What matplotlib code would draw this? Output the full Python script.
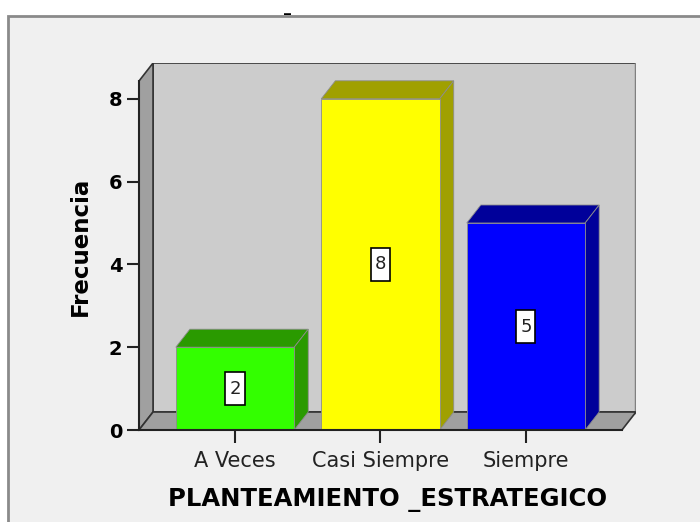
import matplotlib.pyplot as plt
from matplotlib.patches import Polygon, Rectangle

# datos
categorias = ["A Veces", "Casi Siempre", "Siempre"]
frecuencias = [2, 8, 5]
colores_frente = ["#33FF00", "#FFFF00", "#0000FF"]
colores_lado = ["#2A9A00", "#A0A000", "#00009A"]

W, H = 700, 522
fig = plt.figure(figsize=(7, 5.22), dpi=100)
fig.patch.set_facecolor("white")

# marco gris del grafico
fig.patches.append(Rectangle((8 / W, -0.1), 1.0, (522 - 16) / H + 0.1,
                             transform=fig.transFigure, facecolor="#F0F0F0",
                             edgecolor="#8A8A8A", linewidth=2, zorder=-1))

# ejes (pixeles de la referencia)
ax = fig.add_axes([139 / W, (H - 430) / H, (636 - 139) / W, (430 - 63) / H])
ax.set_facecolor("none")

x0, x1 = -0.66, 2.66
ytop = 8.43
DX = 14 / 145
DY = 18 / 41.4
ancho = 118 / 145

ax.set_xlim(x0, x1 + DX)
ax.set_ylim(0, ytop + DY)

# paredes 3D
ax.add_patch(Polygon([(x0 + DX, DY), (x1 + DX, DY), (x1 + DX, ytop + DY), (x0 + DX, ytop + DY)],
                     facecolor="#CCCCCC", edgecolor="#333333", linewidth=1.2, zorder=1))
ax.plot([x1 + DX, x1 + DX], [DY, ytop + DY], color="#808080", lw=2.5, zorder=1.5)
ax.add_patch(Polygon([(x0, 0), (x0 + DX, DY), (x0 + DX, ytop + DY), (x0, ytop)],
                     facecolor="#A0A0A0", edgecolor="#333333", linewidth=1.2, zorder=1))
ax.add_patch(Polygon([(x0, 0), (x1, 0), (x1 + DX, DY), (x0 + DX, DY)],
                     facecolor="#A0A0A0", edgecolor="#333333", linewidth=1.2, zorder=2))

# barras
caja_w = 19 / 145
caja_h = 33 / 41.4
for i, (v, cf, cl) in enumerate(zip(frecuencias, colores_frente, colores_lado)):
    a = i - ancho / 2
    b = i + ancho / 2
    ax.add_patch(Polygon([(a, v), (b, v), (b + DX, v + DY), (a + DX, v + DY)],
                         facecolor=cl, edgecolor="#8C8C8C", linewidth=0.6, zorder=3))
    ax.add_patch(Polygon([(b, 0), (b + DX, DY), (b + DX, v + DY), (b, v)],
                         facecolor=cl, edgecolor="#8C8C8C", linewidth=0.6, zorder=3))
    ax.add_patch(Rectangle((a, 0), ancho, v, facecolor=cf,
                           edgecolor="#8C8C8C", linewidth=0.6, zorder=4))
    ax.add_patch(Rectangle((i - caja_w / 2, v / 2 - caja_h / 2), caja_w, caja_h,
                           facecolor="white", edgecolor="black", linewidth=1.2, zorder=5))
    ax.text(i, v / 2, str(v), ha="center", va="center", fontsize=13,
            color="#222222", zorder=6)

for s in ["top", "right"]:
    ax.spines[s].set_visible(False)
ax.spines["left"].set_bounds(0, ytop)
ax.spines["bottom"].set_bounds(x0, x1)
for s in ["left", "bottom"]:
    ax.spines[s].set_linewidth(1.5)
    ax.spines[s].set_color("#222222")
    ax.spines[s].set_zorder(6)

ax.set_yticks([0, 2, 4, 6, 8])
ax.set_xticks(range(len(categorias)))
ax.set_xticklabels(categorias, fontsize=15, color="#222222")
for lab in ax.get_yticklabels():
    lab.set_fontsize(14)
    lab.set_fontweight("bold")
ax.tick_params(axis="y", length=9, width=1.5, pad=3, color="#222222")
ax.tick_params(axis="x", length=9, width=1.5, pad=6, color="#222222")

ax.set_ylabel("Frecuencia", fontsize=16.5, fontweight="bold", labelpad=12)
ax.set_xlabel("PLANTEAMIENTO _ESTRATEGICO", fontsize=17.5, fontweight="bold", labelpad=12)

fig.text(288 / W, (H - 15) / H, "_", ha="center", va="bottom", fontsize=10, fontweight="bold")

fig.savefig("out.png", dpi=100)
